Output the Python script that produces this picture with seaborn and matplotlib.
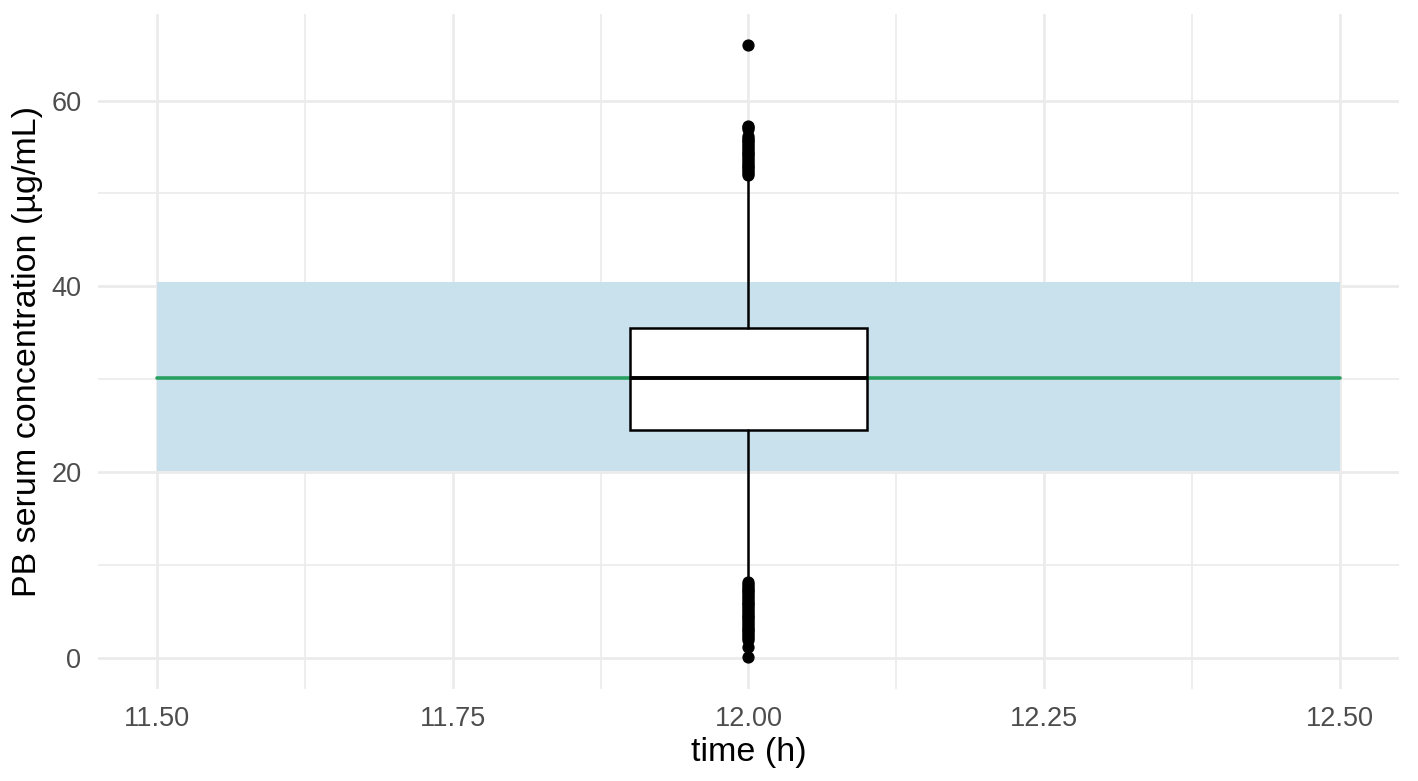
import matplotlib
matplotlib.use("Agg")
import matplotlib.pyplot as plt
import seaborn as sns
import numpy as np

# --- datos ---
time_h = 12.0
box_width = 0.2
q1, median, q3 = 24.6, 30.2, 35.5
whisker_low, whisker_high = 8.4, 51.5
fliers_high = [52.0, 52.2, 52.4, 52.6, 52.8, 53.0, 53.2, 53.4, 53.6, 53.8,
               54.0, 54.2, 54.4, 54.6, 54.8, 55.0, 55.2, 55.4, 55.6, 55.8,
               56.0, 56.2, 56.9, 57.1, 57.3, 66.0]
fliers_low = [8.2, 8.0, 7.8, 7.6, 7.4, 7.2, 7.0, 6.8, 6.6, 6.4, 6.2, 6.0,
              5.8, 5.6, 5.4, 5.2, 5.0, 4.8, 4.6, 4.4, 4.2, 4.0, 3.8, 3.6,
              3.4, 3.2, 3.0, 2.8, 2.6, 2.4, 2.2, 2.0, 1.2, 0.1]

band_x = [11.5, 12.5]
band_low, band_high = 20.1, 40.5
target = 30.2

x_ticks = [11.50, 11.75, 12.00, 12.25, 12.50]
y_ticks = [0, 20, 40, 60]

# --- estilo (tipo ggplot theme_minimal) ---
sns.set_style("whitegrid")
plt.rcParams["font.family"] = ["Liberation Sans", "DejaVu Sans"]

fig = plt.figure(figsize=(14.18, 7.81), dpi=100)
ax = fig.add_axes([0.0691, 0.1178, 0.9175, 0.8642])

# banda de referencia + linea objetivo
ax.fill_between(band_x, band_low, band_high, color="#c9e0ed", lw=0, zorder=1)
sns.lineplot(x=band_x, y=[target, target], color="#2aa060", lw=2.6, ax=ax, zorder=2)

# boxplot a partir de los estadisticos leidos
stats = [{
    "med": median, "q1": q1, "q3": q3,
    "whislo": whisker_low, "whishi": whisker_high,
    "fliers": np.array(fliers_high + fliers_low),
}]
ax.bxp(stats, positions=[time_h], widths=box_width, showcaps=False,
       patch_artist=True, manage_ticks=False,
       boxprops=dict(facecolor="white", edgecolor="black", lw=1.8),
       whiskerprops=dict(color="black", lw=1.8),
       medianprops=dict(color="black", lw=2.8),
       flierprops=dict(marker="o", markerfacecolor="black",
                       markeredgecolor="black", markersize=7.8))

ax.set_xlim(11.45, 12.55)
ax.set_ylim(-3.3, 69.3)
ax.set_xticks(x_ticks)
ax.set_xticklabels([f"{t:.2f}" for t in x_ticks])
ax.set_yticks(y_ticks)
ax.set_xticks([11.625, 11.875, 12.125, 12.375], minor=True)
ax.set_yticks([10, 30, 50], minor=True)

ax.grid(which="major", color="#ebebeb", lw=2.0)
ax.grid(which="minor", color="#ebebeb", lw=1.2)
ax.set_axisbelow(True)
for s in ax.spines.values():
    s.set_visible(False)
ax.tick_params(axis="both", which="both", length=0, labelsize=19.5,
               labelcolor="#4d4d4d")
ax.tick_params(axis="x", pad=12)
ax.tick_params(axis="y", pad=12)

ax.set_xlabel("time (h)", fontsize=24.5, color="black", labelpad=4)
ax.set_ylabel("PB serum concentration (µg/mL)", fontsize=24.5,
              color="black", labelpad=6)

fig.savefig("out.png", dpi=100)
